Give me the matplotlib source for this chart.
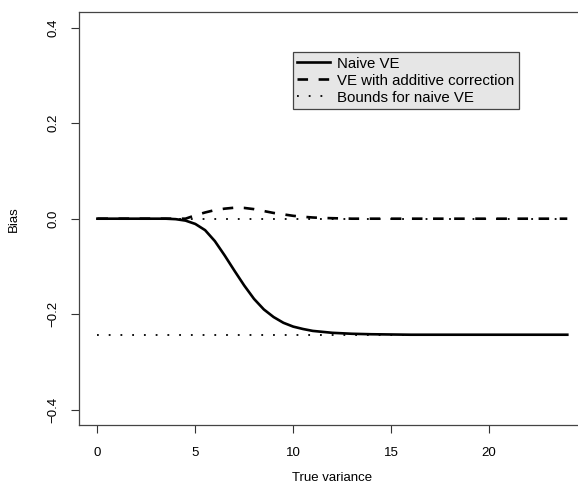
import matplotlib
matplotlib.use('Agg')
import matplotlib.pyplot as plt

# values
true_var = [0, 1, 2, 3, 3.5, 4, 4.5, 5, 5.5, 6, 6.5, 7, 7.5, 8, 8.5, 9, 9.5,
            10, 10.5, 11, 11.5, 12, 13, 14, 16, 18, 20, 22, 24]
naive_ve = [0, 0, 0, 0, 0, -0.001, -0.004, -0.011, -0.024, -0.047, -0.077,
            -0.109, -0.140, -0.168, -0.190, -0.206, -0.218, -0.226, -0.231,
            -0.235, -0.237, -0.239, -0.241, -0.242, -0.243, -0.243, -0.243,
            -0.243, -0.243]
corrected_ve = [0, 0, 0, 0, 0, 0, 0, 0.007, 0.013, 0.018, 0.021, 0.023,
                0.0225, 0.020, 0.016, 0.012, 0.009, 0.006, 0.004, 0.0025,
                0.0015, 0.001, 0, 0, 0, 0, 0, 0, 0]
bound_x = [0, 24]
upper_bound = [0, 0]
lower_bound = [-0.243, -0.243]

x_ticks = [0, 5, 10, 15, 20]
y_ticks = [-0.4, -0.2, 0.0, 0.2, 0.4]

plt.rcParams['font.family'] = ['Liberation Sans', 'DejaVu Sans']

fig = plt.figure(figsize=(5.78, 4.9), dpi=100)
ax = fig.add_axes([0.136, 0.1327, 0.878, 0.842])

ax.plot(true_var, naive_ve, color='black', lw=1.9, label='Naive VE',
        solid_joinstyle='round')
ax.plot(true_var, corrected_ve, color='black', lw=1.9, dashes=(4, 4),
        label='VE with additive correction')
ax.plot(bound_x, upper_bound, color='black', lw=1.3, dashes=(1, 5.5),
        label='Bounds for naive VE')
ax.plot(bound_x, lower_bound, color='black', lw=1.3, dashes=(1, 5.5))

ax.set_xlim(-0.96, 24.96)
ax.set_ylim(-0.432, 0.432)
ax.set_xticks(x_ticks)
ax.set_xticklabels([str(t) for t in x_ticks])
ax.set_yticks(y_ticks)
ax.set_yticklabels([f"{t:.1f}".replace('-', '\u2212') for t in y_ticks])
ax.tick_params(axis='both', length=6, width=0.8, labelsize=9.5,
               colors='#333333', labelcolor='black')
ax.tick_params(axis='x', pad=10)
ax.tick_params(axis='y', labelrotation=90, pad=8)
for lbl in ax.get_yticklabels():
    lbl.set_verticalalignment('center')
for side in ['left', 'bottom', 'top']:
    ax.spines[side].set_color('#444444')
    ax.spines[side].set_linewidth(0.9)
ax.spines['right'].set_visible(False)

ax.set_xlabel('True variance', fontsize=9.5, labelpad=9)
ax.set_ylabel('Bias', fontsize=9.5, labelpad=20)

leg = ax.legend(loc='upper left', bbox_to_anchor=(0.4224, 0.904),
                borderaxespad=0, fontsize=10.8, frameon=True, fancybox=False,
                facecolor='#e6e6e6', edgecolor='#444444', framealpha=1,
                handlelength=2.2, handletextpad=0.45, labelspacing=0.2,
                borderpad=0.3)
leg.get_frame().set_linewidth(0.9)

fig.savefig('out.png', dpi=100)
